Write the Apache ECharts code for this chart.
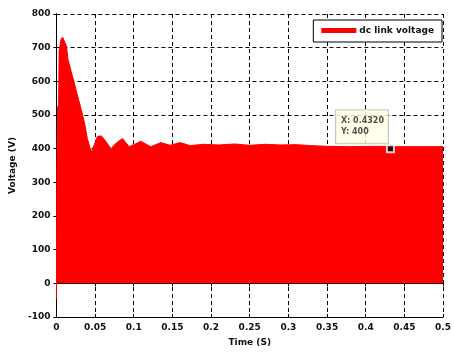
<!DOCTYPE html>
<html>
<head>
<meta charset="utf-8">
<script src="https://cdn.jsdelivr.net/npm/echarts@6/dist/echarts.min.js"></script>
<style>
html,body{margin:0;padding:0;background:#fff;}
#chart{width:454px;height:352px;}
</style>
</head>
<body>
<div id="chart"></div>
<script>
// Envelope of the dc link voltage waveform (time in s, voltage in V)
const timeValues = [0, 0.0005, 0.0015, 0.0028, 0.0035, 0.006, 0.008, 0.0105, 0.013, 0.015, 0.019, 0.023, 0.027, 0.032, 0.036, 0.040, 0.045, 0.049, 0.053, 0.058, 0.064, 0.0705, 0.078, 0.0855, 0.094, 0.102, 0.109, 0.122, 0.135, 0.147, 0.160, 0.173, 0.19, 0.21, 0.23, 0.25, 0.27, 0.29, 0.31, 0.33, 0.35, 0.38, 0.41, 0.44, 0.47, 0.5];
const voltageValues = [-47, 330, 523, 530, 690, 725, 731, 728, 705, 664, 630, 596, 560, 517, 480, 430, 390, 412, 436, 438, 421, 400, 418, 430, 406, 414, 422, 406, 418, 410, 418, 409, 413, 411, 414, 410, 413, 411, 412, 409, 407, 406, 407, 406, 406, 406];
const seriesName = 'dc link voltage';
const datatipX = 0.4320;
const datatipY = 400;
const xTicks = [0, 0.5, 0.05];   // min, max, interval
const yTicks = [-100, 800, 100]; // min, max, interval

const chart = echarts.init(document.getElementById('chart'), null, {renderer: 'canvas'});
const font = 'DejaVu Sans';
const labelStyle = {color: '#111', fontSize: 9, fontWeight: 'bold', fontFamily: font};
const gridLine = {show: true, lineStyle: {color: '#000', type: [4, 3], width: 1}};

const option = {
  backgroundColor: '#fff',
  animation: false,
  grid: {left: 55, right: 9, top: 14, bottom: 32},
  legend: {
    data: [{name: seriesName, icon: 'rect'}],
    right: 12, top: 20,
    itemWidth: 35, itemHeight: 5, itemGap: 4,
    borderColor: '#000', borderWidth: 1,
    padding: [6, 8, 7, 8],
    backgroundColor: '#fff',
    textStyle: {color: '#111', fontSize: 9, fontWeight: 'bold', fontFamily: font, padding: [0, 0, 0, -2]}
  },
  xAxis: [{
    type: 'value', min: xTicks[0], max: xTicks[1], interval: xTicks[2],
    name: 'Time (S)', nameLocation: 'middle', nameGap: 21,
    nameTextStyle: {color: '#111', fontSize: 9, fontWeight: 'bold', fontFamily: font},
    axisLine: {show: true, onZero: false, lineStyle: {color: '#000', width: 1}},
    axisTick: {show: true, inside: true, length: 3, lineStyle: {color: '#000'}},
    axisLabel: Object.assign({margin: 6}, labelStyle),
    splitLine: gridLine
  }, {
    type: 'value', min: xTicks[0], max: xTicks[1], interval: xTicks[2], position: 'top',
    axisLine: {show: true, lineStyle: {color: '#000', width: 1}},
    axisTick: {show: true, inside: true, length: 3, lineStyle: {color: '#000'}},
    axisLabel: {show: false}, splitLine: {show: false}
  }],
  yAxis: [{
    type: 'value', min: yTicks[0], max: yTicks[1], interval: yTicks[2],
    name: 'Voltage (V)', nameLocation: 'middle', nameGap: 32, nameRotate: 90,
    nameTextStyle: {color: '#111', fontSize: 9, fontWeight: 'bold', fontFamily: font},
    axisLine: {show: true, onZero: false, lineStyle: {color: '#000', width: 1}},
    axisTick: {show: true, inside: true, length: 3, lineStyle: {color: '#000'}},
    axisLabel: Object.assign({margin: 6}, labelStyle),
    splitLine: gridLine
  }, {
    type: 'value', min: yTicks[0], max: yTicks[1], interval: yTicks[2], position: 'right',
    axisLine: {show: true, lineStyle: {color: '#000', width: 1}},
    axisTick: {show: true, inside: true, length: 3, lineStyle: {color: '#000'}},
    axisLabel: {show: false}, splitLine: {show: false}
  }],
  series: [{
    name: seriesName,
    type: 'line',
    data: timeValues.map((t, i) => [t, voltageValues[i]]),
    showSymbol: false,
    color: '#ff0000',
    lineStyle: {color: '#ff0000', width: 1},
    areaStyle: {color: '#ff0000', opacity: 1, origin: 0},
    z: 2
  }, {
    name: 'datatip',
    type: 'scatter',
    data: [[datatipX, datatipY]],
    symbol: 'rect', symbolSize: 7,
    itemStyle: {color: '#000', borderColor: '#fff', borderWidth: 2},
    z: 5,
    label: {
      show: true,
      position: [-50, -34],
      align: 'left', verticalAlign: 'top',
      formatter: 'X: ' + datatipX.toFixed(4) + '\nY: ' + datatipY,
      backgroundColor: '#ffffe6',
      borderColor: '#bbbbaa', borderWidth: 1,
      padding: [5, 4, 6, 5],
      lineHeight: 11,
      color: '#222', fontSize: 8, fontWeight: 'bold', fontFamily: font
    }
  }]
};
chart.setOption(option);
</script>
</body>
</html>
